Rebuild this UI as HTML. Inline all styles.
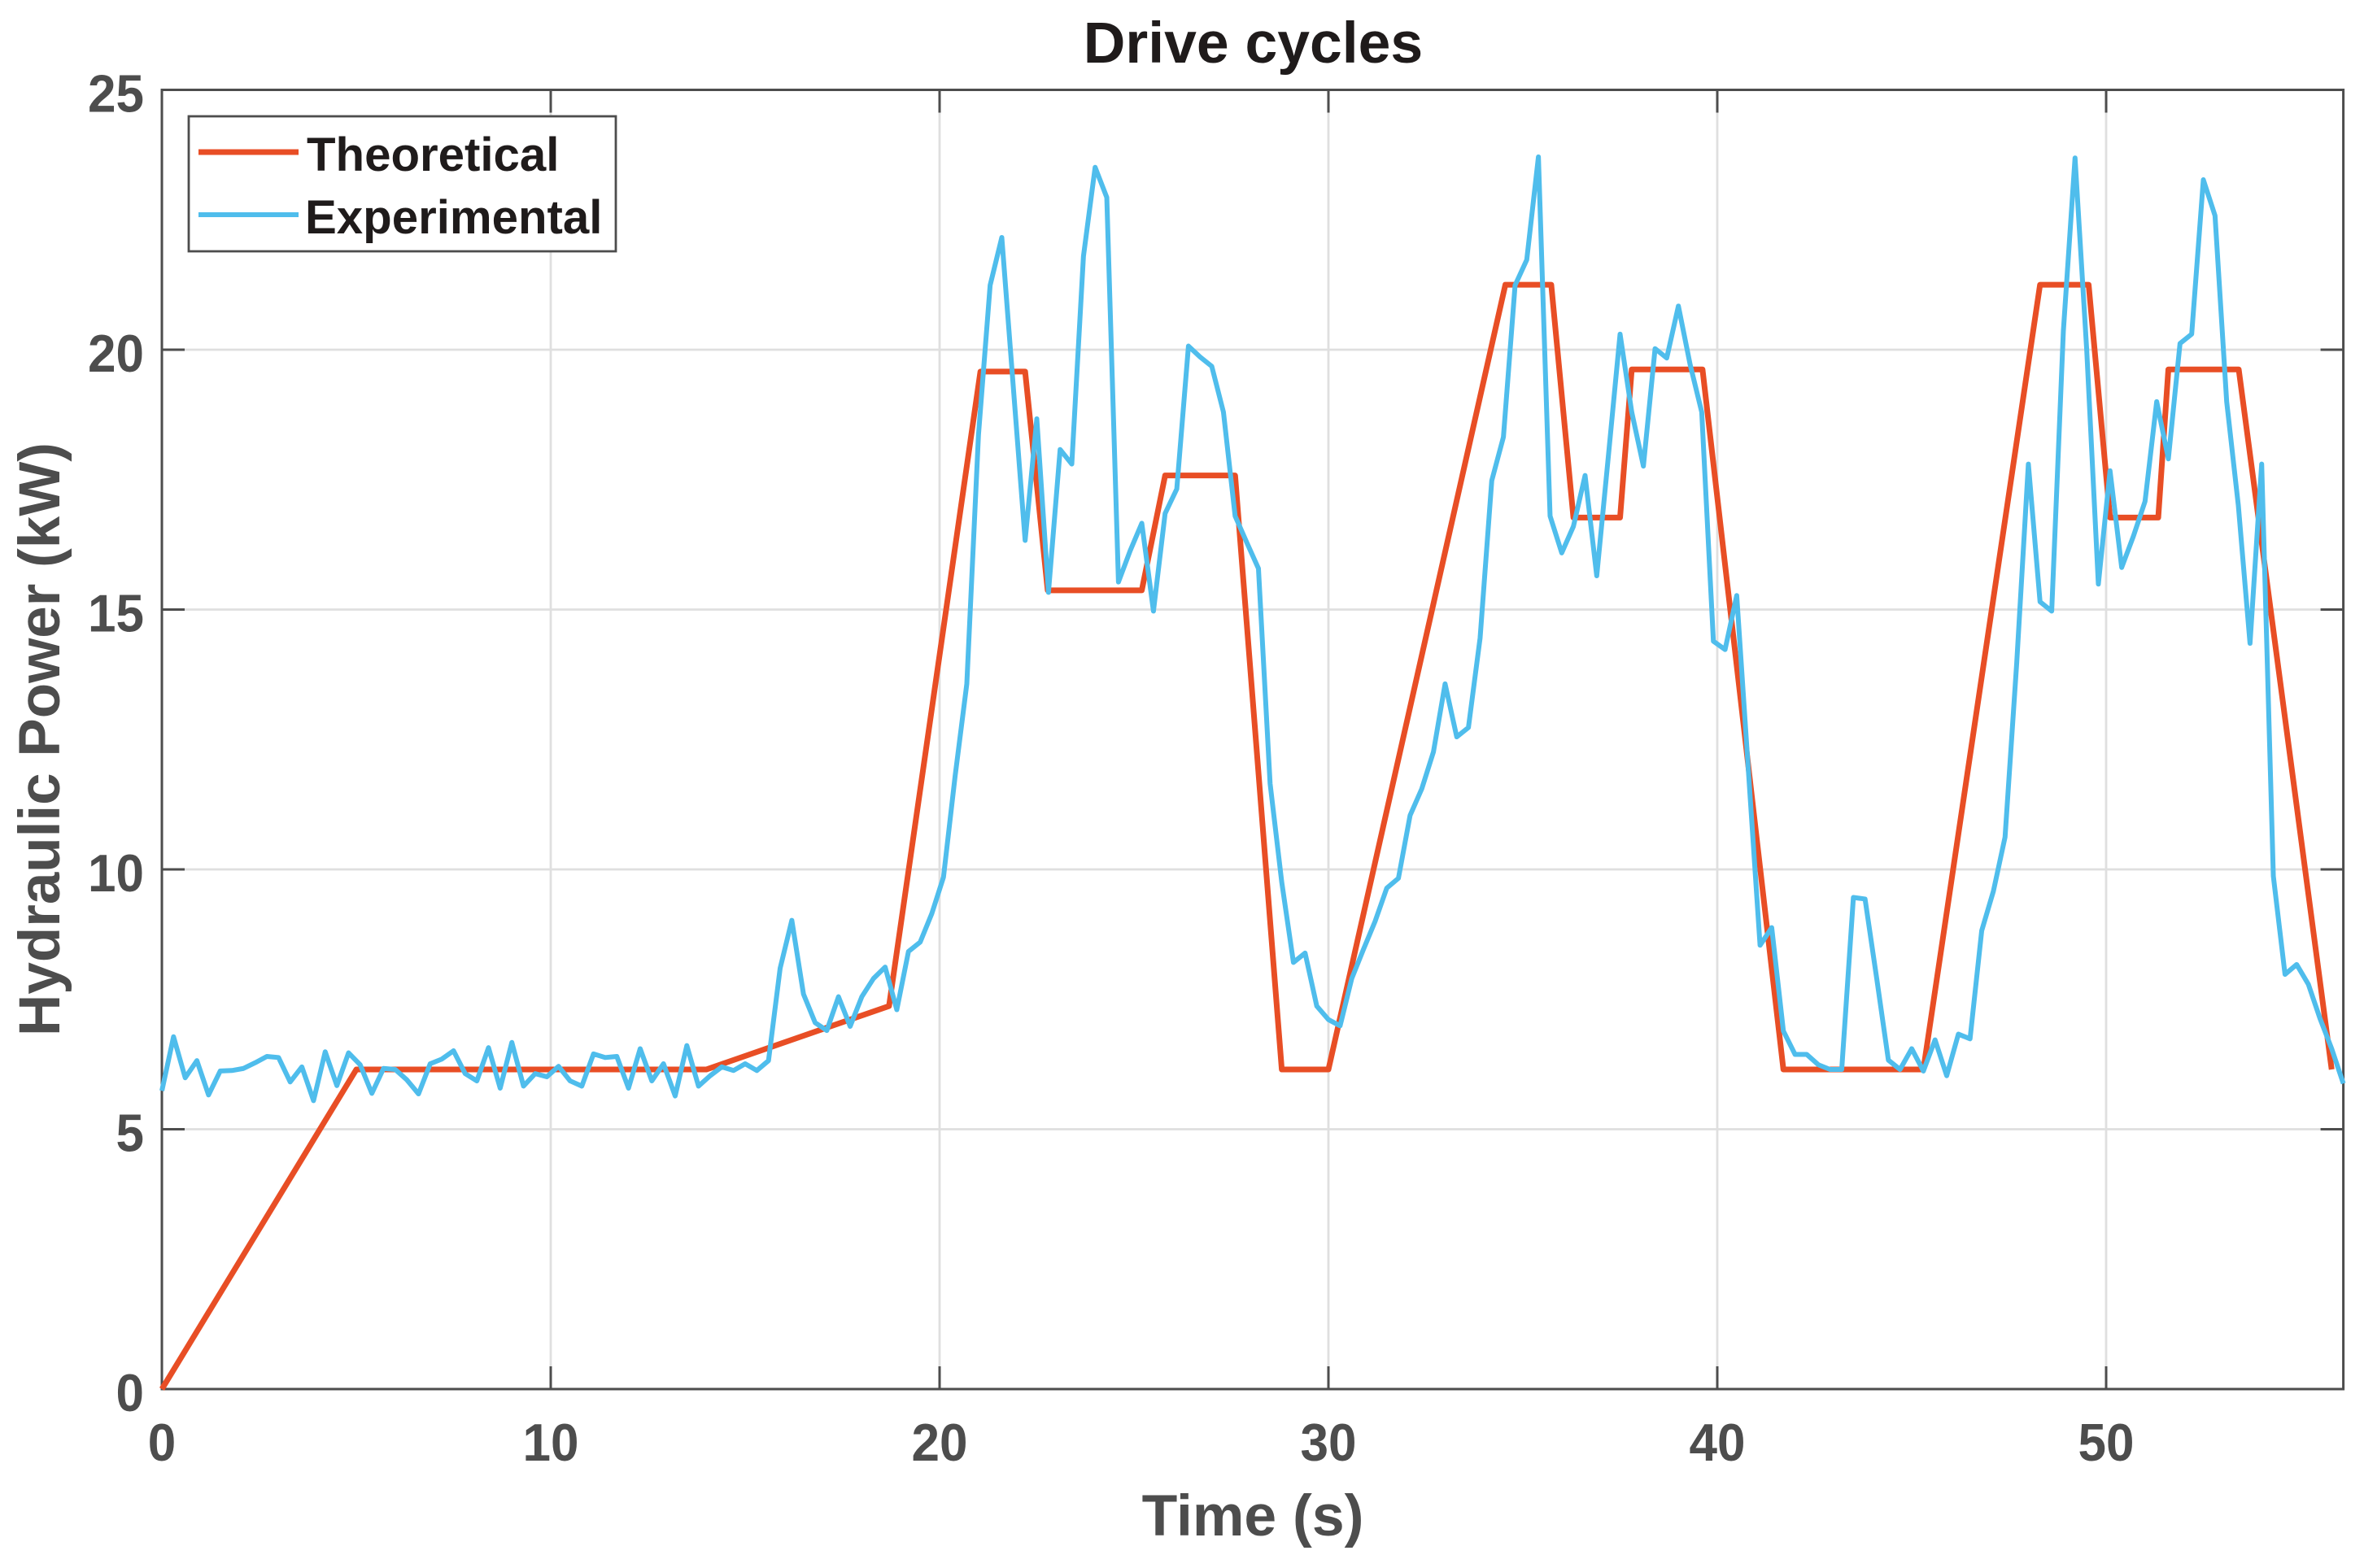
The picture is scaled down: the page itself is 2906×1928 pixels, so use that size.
<!DOCTYPE html>
<html lang="en">
<head>
<meta charset="utf-8">
<title>Drive cycles</title>
<style>
html,body{margin:0;padding:0;background:#fff;}
svg{display:block;font-family:"Liberation Sans",Arial,sans-serif;font-weight:bold;}
</style>
</head>
<body>
<svg id="chart" xmlns="http://www.w3.org/2000/svg" width="2906" height="1928" viewBox="0 0 2906 1928">
  <rect x="0" y="0" width="2906" height="1928" fill="#ffffff"/>
  <g id="grid"></g>
  <g id="ticks"></g>
  <rect x="199" y="110.5" width="2681.6" height="1597.5" fill="none" stroke="#4d4d4d" stroke-width="3"/>
  <g id="tick-labels" font-size="65" fill="#4d4d4d"></g>
  <g id="series"></g>
  <text x="1540.5" y="77" text-anchor="middle" font-size="71.5" fill="#1f1b1b">Drive cycles</text>
  <text x="1540" y="1888" text-anchor="middle" font-size="71.5" fill="#4d4d4d">Time (s)</text>
  <text transform="translate(73,909) rotate(-90)" text-anchor="middle" font-size="71" fill="#4d4d4d">Hydraulic Power (kW)</text>
  <g>
    <rect x="232" y="143" width="525" height="166" fill="#ffffff" stroke="#4d4d4d" stroke-width="2.8"/>
    <line x1="244" y1="187" x2="367" y2="187" stroke="#e84e25" stroke-width="7"/>
    <text x="377" y="210" font-size="58.2" fill="#1f1b1b">Theoretical</text>
    <line x1="244" y1="264" x2="367" y2="264" stroke="#4fbdec" stroke-width="6"/>
    <text x="375" y="287" font-size="58.2" fill="#1f1b1b">Experimental</text>
  </g>
</svg>
<script>
const xTickValues = [0, 10, 20, 30, 40, 50];
const yTickValues = [0, 5, 10, 15, 20, 25];
const xMax = 56.1;
const yMax = 25;
const theoreticalTime = [0, 5.0, 14.0, 18.7, 21.05, 22.2, 22.78, 25.2, 25.8, 27.6, 28.8, 30.0, 34.55, 35.73, 36.3, 37.5, 37.8, 39.62, 41.7, 45.3, 48.3, 49.55, 50.1, 51.34, 51.6, 53.41, 55.8];
const theoreticalPower = [0, 6.15, 6.15, 7.37, 19.58, 19.58, 15.37, 15.37, 17.58, 17.58, 6.15, 6.15, 21.25, 21.25, 16.77, 16.77, 19.62, 19.62, 6.15, 6.15, 21.25, 21.25, 16.77, 16.77, 19.62, 19.62, 6.15];
const experimentalSampleInterval = 0.3;
const experimentalPower = [
  5.74, 6.78, 5.99, 6.32, 5.66, 6.12, 6.13, 6.17, 6.28, 6.40,
  6.38, 5.91, 6.20, 5.55, 6.49, 5.84, 6.47, 6.24, 5.69, 6.17,
  6.15, 5.95, 5.68, 6.26, 6.35, 6.51, 6.07, 5.93, 6.57, 5.79,
  6.67, 5.83, 6.07, 6.01, 6.21, 5.93, 5.83, 6.45, 6.38, 6.40,
  5.79, 6.55, 5.93, 6.26, 5.64, 6.61, 5.83, 6.03, 6.20, 6.13,
  6.26, 6.13, 6.32, 8.10, 9.02, 7.60,
  7.05, 6.9, 7.55, 6.98, 7.55, 7.9, 8.12, 7.3, 8.42, 8.6,
  9.15, 9.85, 11.8, 13.57, 18.36, 21.24, 22.16, 19.24, 16.33, 18.67,
  15.33, 18.08, 17.8, 21.8, 23.51, 22.93, 15.53, 16.13, 16.66, 14.97,
  16.85, 17.32, 20.07, 19.86, 19.68, 18.8, 16.8, 16.29, 15.79, 11.65,
  9.75, 8.21, 8.39, 7.37, 7.11, 6.99, 7.9, 8.46, 9.0, 9.64,
  9.83, 11.04, 11.55, 12.26, 13.57, 12.55, 12.73, 14.45, 17.48, 18.32,
  21.24, 21.73, 23.71, 16.8, 16.09, 16.6, 17.58, 15.65, 17.96, 20.3,
  18.8, 17.76, 20.02, 19.84, 20.84, 19.72, 18.8, 14.39, 14.23, 15.27,
  11.9, 8.54, 8.88, 6.89, 6.44, 6.44, 6.24, 6.15, 6.15, 9.46,
  9.43, 7.9, 6.33, 6.15, 6.55, 6.12, 6.72, 6.03, 6.83, 6.74,
  8.82, 9.58, 10.62, 13.97, 17.8, 15.15, 14.97, 20.36, 23.69, 20.0,
  15.49, 17.67, 15.81, 16.41, 17.08, 19.0, 17.9, 20.12, 20.3, 23.27,
  22.58, 19.0, 17.0, 14.35, 17.8, 9.87, 7.98, 8.17, 7.79, 7.13,
  6.55, 5.88
];

const NS = 'http://www.w3.org/2000/svg';
const plotLeft = 199, plotRight = 2880.6, plotTop = 110.5, plotBottom = 1708;
const tickLength = 28;
function xScale(v) { return plotLeft + (v / xMax) * (plotRight - plotLeft); }
function yScale(v) { return plotBottom - (v / yMax) * (plotBottom - plotTop); }
function makeLine(parent, x1, y1, x2, y2, color, width) {
  const l = document.createElementNS(NS, 'line');
  l.setAttribute('x1', x1);
  l.setAttribute('y1', y1);
  l.setAttribute('x2', x2);
  l.setAttribute('y2', y2);
  l.setAttribute('stroke', color);
  l.setAttribute('stroke-width', width);
  parent.appendChild(l);
  return l;
}
function makeLabel(parent, x, y, anchor, content) {
  const t = document.createElementNS(NS, 'text');
  t.setAttribute('x', x);
  t.setAttribute('y', y);
  t.setAttribute('text-anchor', anchor);
  t.setAttribute('textLength', 34.5 * content.length);
  t.setAttribute('lengthAdjust', 'spacingAndGlyphs');
  t.textContent = content;
  parent.appendChild(t);
  return t;
}
function makePolyline(parent, xs, ys, color, width) {
  const p = document.createElementNS(NS, 'polyline');
  p.setAttribute('points', xs.map(function (x, i) { return xScale(x).toFixed(2) + ',' + yScale(ys[i]).toFixed(2); }).join(' '));
  p.setAttribute('fill', 'none');
  p.setAttribute('stroke', color);
  p.setAttribute('stroke-width', width);
  p.setAttribute('stroke-linejoin', 'round');
  parent.appendChild(p);
  return p;
}

const gridGroup = document.getElementById('grid');
const tickGroup = document.getElementById('ticks');
const labelGroup = document.getElementById('tick-labels');
const seriesGroup = document.getElementById('series');

xTickValues.forEach(function (v) {
  const x = xScale(v);
  if (v !== 0) {
    const g = makeLine(gridGroup, x, plotTop, x, plotBottom, '#dfdfdf', 2.8);
    
    
    const tb = makeLine(tickGroup, x, plotBottom, x, plotBottom - tickLength, '#4d4d4d', 3);
    
    
    const tt = makeLine(tickGroup, x, plotTop, x, plotTop + tickLength, '#4d4d4d', 3);
    
    
  }
  const lab = makeLabel(labelGroup, x, 1796, 'middle', String(v));
  
  
});

yTickValues.forEach(function (v) {
  const y = yScale(v);
  if (v !== 0 && v !== 25) {
    const g = makeLine(gridGroup, plotLeft, y, plotRight, y, '#dfdfdf', 2.8);
    
    
    const tl = makeLine(tickGroup, plotLeft, y, plotLeft + tickLength, y, '#4d4d4d', 3);
    
    
    const tr = makeLine(tickGroup, plotRight, y, plotRight - tickLength, y, '#4d4d4d', 3);
    
    
  }
  const lab = makeLabel(labelGroup, 177, y + 27, 'end', String(v));
  
  
});

const theoreticalLine = makePolyline(seriesGroup, theoreticalTime, theoreticalPower, '#e84e25', 7);



const experimentalTime = experimentalPower.map(function (_, i) { return i * experimentalSampleInterval; });
const experimentalLine = makePolyline(seriesGroup, experimentalTime, experimentalPower, '#4fbdec', 6);


</script>
</body>
</html>
